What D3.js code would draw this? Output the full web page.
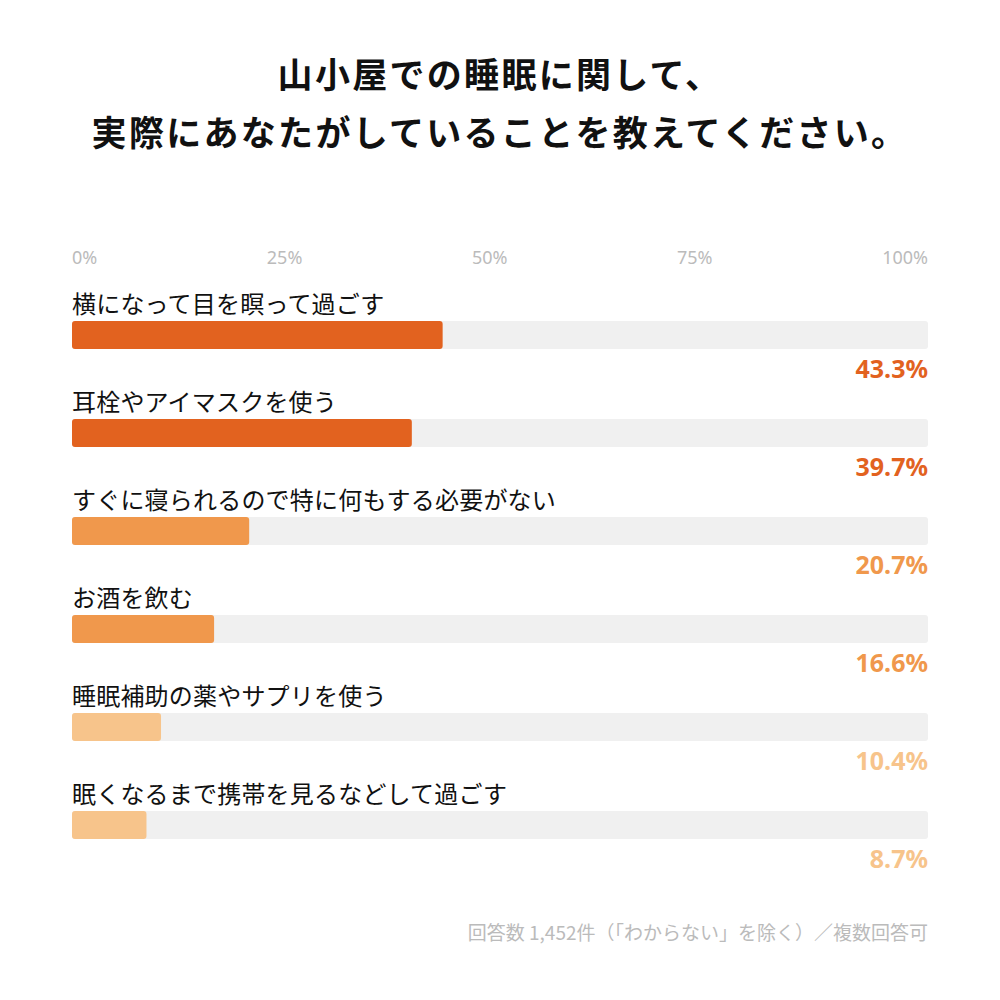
<html>
<head>
<meta charset="utf-8">
<script src="https://d3js.org/d3.v7.min.js"></script>
<style>
body { margin: 0; background: #fff; }
text { font-family: "Noto Sans CJK JP", "Noto Sans", sans-serif; }
</style>
</head>
<body>
<svg width="1000" height="1000"></svg>
<script>
var titleLines = ["山小屋での睡眠に関して、", "実際にあなたがしていることを教えてください。"];
var labels = [
  "横になって目を瞑って過ごす",
  "耳栓やアイマスクを使う",
  "すぐに寝られるので特に何もする必要がない",
  "お酒を飲む",
  "睡眠補助の薬やサプリを使う",
  "眠くなるまで携帯を見るなどして過ごす"
];
var values = [43.3, 39.7, 20.7, 16.6, 10.4, 8.7];
var colors = ["#e2621f", "#e2621f", "#f0984c", "#f0984c", "#f7c48b", "#f7c48b"];
var tickValues = [0, 25, 50, 75, 100];
var footnote = "回答数 1,452件（「わからない」を除く）／複数回答可";

var svg = d3.select("svg");
var x = d3.scaleLinear().domain([0, 100]).range([72, 928]);
var y = d3.scaleBand().domain(labels).range([285, 873]);

// title
svg.append("g").selectAll("text")
  .data(titleLines)
  .enter().append("text")
  .attr("x", 500)
  .attr("y", function(d, i) { return 88 + i * 58; })
  .attr("text-anchor", "middle")
  .attr("font-size", 35)
  .attr("font-weight", "bold")
  .attr("letter-spacing", 2.3)
  .attr("fill", "#111")
  .text(function(d) { return d; });

// tick labels, spread across the track
var tg = svg.append("g");
var ticks = tg.selectAll("text")
  .data(tickValues)
  .enter().append("text")
  .attr("y", 264)
  .attr("font-size", 18)
  .attr("fill", "#bbbbbb")
  .style("font-family", "'Noto Sans', sans-serif")
  .text(function(d) { return d + "%"; });
var widths = [];
ticks.each(function() { widths.push(this.getComputedTextLength()); });
var total = d3.sum(widths);
var gap = (x(100) - x(0) - total) / (tickValues.length - 1);
var pos = x(0);
ticks.attr("x", function(d, i) {
  var p = pos;
  pos += widths[i] + gap;
  return p;
});

var rows = svg.append("g").selectAll("g")
  .data(labels)
  .enter().append("g")
  .attr("transform", function(d) { return "translate(0," + y(d) + ")"; });

rows.append("text")
  .attr("x", x(0))
  .attr("y", 28)
  .attr("font-size", 24)
  .attr("letter-spacing", 0.2)
  .attr("fill", "#111")
  .text(function(d) { return d; });

rows.append("rect")
  .attr("x", x(0))
  .attr("y", 36)
  .attr("width", x(100) - x(0))
  .attr("height", 28)
  .attr("rx", 3)
  .attr("fill", "#f0f0f0");

rows.append("rect")
  .attr("x", x(0))
  .attr("y", 36)
  .attr("width", function(d, i) { return x(values[i]) - x(0); })
  .attr("height", 28)
  .attr("rx", 3)
  .attr("fill", function(d, i) { return colors[i]; });

rows.append("text")
  .attr("x", x(100))
  .attr("y", 93)
  .attr("text-anchor", "end")
  .attr("font-size", 25)
  .attr("font-weight", "bold")
  .style("font-family", "'Noto Sans', sans-serif")
  .attr("fill", function(d, i) { return colors[i]; })
  .text(function(d, i) { return values[i].toFixed(1) + "%"; });

svg.append("text")
  .attr("x", x(100))
  .attr("y", 940)
  .attr("text-anchor", "end")
  .attr("font-size", 19)
  .attr("fill", "#bbbbbb")
  .text(footnote);
</script>
</body>
</html>
